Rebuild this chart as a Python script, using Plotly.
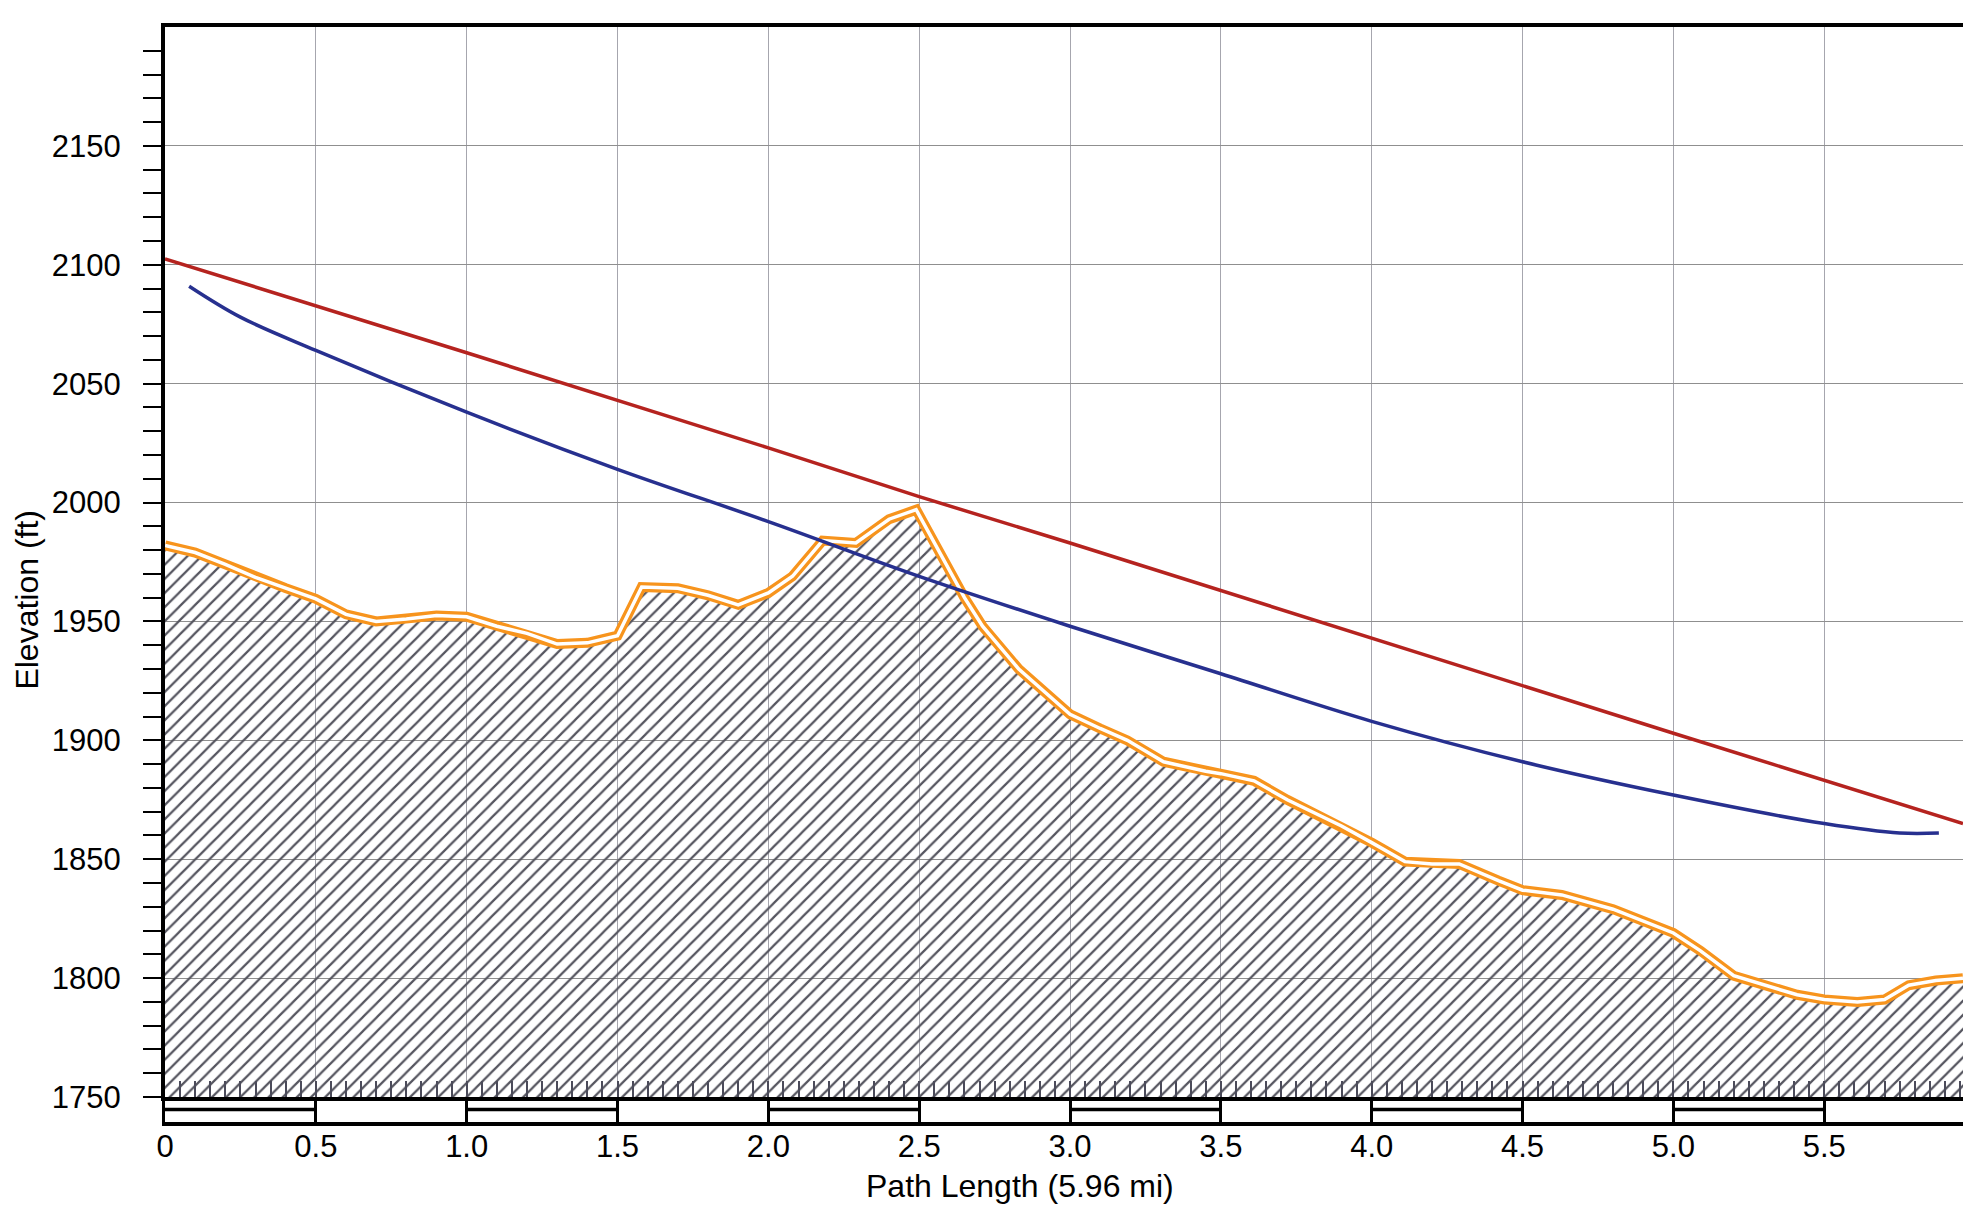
import plotly.graph_objects as go

# ---------------- data ----------------
dist_mi = [0.0, 0.1, 0.2, 0.3, 0.4, 0.5, 0.6, 0.7, 0.8, 0.9, 1.0, 1.1, 1.2, 1.3, 1.4,
           1.5, 1.58, 1.7, 1.8, 1.9, 2.0, 2.08, 2.18, 2.29, 2.4, 2.49, 2.65, 2.71,
           2.83, 3.0, 3.1, 3.19, 3.31, 3.45, 3.5, 3.61, 3.72, 3.8, 3.9, 4.0, 4.11,
           4.2, 4.29, 4.42, 4.5, 4.63, 4.8, 5.0, 5.09, 5.2, 5.31, 5.41, 5.5, 5.61,
           5.7, 5.78, 5.87, 5.96]
terrain_ft = [1982, 1979, 1974, 1968.5, 1964, 1959.5, 1953, 1950, 1951, 1952.5, 1952,
              1948, 1945, 1940.5, 1941, 1944, 1964.5, 1964, 1961, 1957, 1962, 1969,
              1984, 1983, 1993, 1997, 1960, 1948, 1930, 1911, 1905, 1900, 1891, 1887,
              1886, 1883, 1875, 1870, 1864, 1857, 1849, 1848, 1848, 1841, 1837, 1835,
              1829, 1819, 1811.5, 1801, 1797, 1793, 1791, 1790, 1791, 1797, 1799, 1800]

los_mi = [0.0, 1.0, 2.0, 2.5, 3.0, 4.0, 5.0, 5.96]
los_ft = [2102.5, 2063, 2023, 2002.5, 1983, 1943, 1903, 1865]

fresnel_mi = [0.08, 0.25, 0.5, 1.0, 1.5, 2.0, 2.5, 3.0, 3.5, 4.0, 4.5, 5.0, 5.5, 5.75, 5.88]
fresnel_ft = [2091, 2078, 2064, 2038, 2014, 1992, 1969, 1948, 1928, 1908, 1891, 1877,
              1865, 1861, 1861]

x_ticks = [0, 0.5, 1.0, 1.5, 2.0, 2.5, 3.0, 3.5, 4.0, 4.5, 5.0, 5.5]
x_tick_labels = ["0", "0.5", "1.0", "1.5", "2.0", "2.5", "3.0", "3.5", "4.0", "4.5", "5.0", "5.5"]
y_ticks = [1750, 1800, 1850, 1900, 1950, 2000, 2050, 2100, 2150]
y_tick_labels = ["1750", "1800", "1850", "1900", "1950", "2000", "2050", "2100", "2150"]
y_minor_ticks = [v for v in range(1760, 2200, 10) if v % 50 != 0]
path_length_mi = 5.96
elev_range = [1750, 2200]
x_title = "Path Length (5.96 mi)"
y_title = "Elevation (ft)"

# ---------------- figure ----------------
FONT = "Liberation Sans, Arial, sans-serif"
fig = go.Figure()

# hatched terrain
fig.add_trace(go.Scatter(
    x=dist_mi, y=terrain_ft, mode="lines", xaxis="x", yaxis="y",
    line=dict(width=0, color="rgba(0,0,0,0)"),
    fill="tozeroy",
    fillpattern=dict(shape="/", fgcolor="#55555f", bgcolor="rgba(0,0,0,0)",
                     size=10, solidity=0.22, fillmode="replace"),
    hoverinfo="skip"))
# double orange terrain outline
fig.add_trace(go.Scatter(x=dist_mi, y=terrain_ft, mode="lines", xaxis="x", yaxis="y",
                         line=dict(width=10, color="#f7941d"), hoverinfo="skip"))
fig.add_trace(go.Scatter(x=dist_mi, y=terrain_ft, mode="lines", xaxis="x", yaxis="y",
                         line=dict(width=3.5, color="#ffffff"), hoverinfo="skip"))
# blue curve
fig.add_trace(go.Scatter(x=fresnel_mi, y=fresnel_ft, mode="lines", xaxis="x", yaxis="y",
                         line=dict(width=3.5, color="#27308f", shape="spline"), hoverinfo="skip"))
# red line of sight
fig.add_trace(go.Scatter(x=los_mi, y=los_ft, mode="lines", xaxis="x", yaxis="y",
                         line=dict(width=3.5, color="#b5231f"), hoverinfo="skip"))

# scale band middle bars (every other half-mile segment)
bx, by = [], []
for i, t in enumerate(x_ticks):
    if i % 2 == 0:
        bx += [t, t + 0.5, None]
        by += [1, 1, None]
fig.add_trace(go.Scatter(x=bx, y=by, mode="lines", xaxis="x2", yaxis="y2",
                         line=dict(width=3.5, color="black"), hoverinfo="skip"))

band_frac = 25 / 1097

fig.update_layout(
    width=1971, height=1211,
    margin=dict(l=157, r=16, t=19, b=97),
    paper_bgcolor="white", plot_bgcolor="white", showlegend=False,
    font=dict(family=FONT, size=31, color="black"),
    xaxis=dict(anchor="y", domain=[0, 1], range=[0, path_length_mi],
               tickmode="array", tickvals=x_ticks, showticklabels=False,
               ticks="inside", ticklen=16, tickwidth=1.5, tickcolor="#4b4b5a",
               minor=dict(dtick=0.05, tick0=0, ticks="inside", ticklen=16,
                          tickwidth=1.5, tickcolor="#4b4b5a", showgrid=False),
               showgrid=True, gridcolor="#a6a6ae", gridwidth=1,
               showline=True, linecolor="black", linewidth=4, mirror=True,
               zeroline=False),
    yaxis=dict(anchor="x", domain=[band_frac, 1], range=elev_range,
               tickmode="array", tickvals=y_ticks, ticktext=y_tick_labels,
               ticks="outside", ticklen=18, tickwidth=1.5, tickcolor="black",
               ticklabelstandoff=16,
               minor=dict(tickmode="array", tickvals=y_minor_ticks, ticks="outside",
                          ticklen=18, tickwidth=1.5, tickcolor="black", showgrid=False),
               showgrid=True, gridcolor="#8f8f8f", gridwidth=1,
               showline=True, linecolor="black", linewidth=4, mirror=True,
               zeroline=False),
    xaxis2=dict(anchor="y2", domain=[0, 1], matches="x", range=[0, path_length_mi],
                tickmode="array", tickvals=x_ticks, ticktext=x_tick_labels,
                ticks="", ticklabelstandoff=-6,
                showgrid=True, gridcolor="black", gridwidth=3,
                showline=True, linecolor="black", linewidth=4,
                zeroline=False),
    yaxis2=dict(anchor="x2", domain=[0, band_frac], range=[0, 2],
                showticklabels=False, ticks="", showgrid=False,
                showline=True, linecolor="black", linewidth=3, mirror=True,
                zeroline=False),
    annotations=[
        dict(text=y_title, xref="paper", yref="paper", x=-0.0768, y=0.477,
             xanchor="center", yanchor="middle", textangle=-90, showarrow=False,
             font=dict(family=FONT, size=32, color="black")),
        dict(text=x_title, xref="paper", yref="paper", x=0.4755, y=-0.058,
             xanchor="center", yanchor="middle", showarrow=False,
             font=dict(family=FONT, size=32, color="black")),
    ],
)

fig.write_html("out.html")
